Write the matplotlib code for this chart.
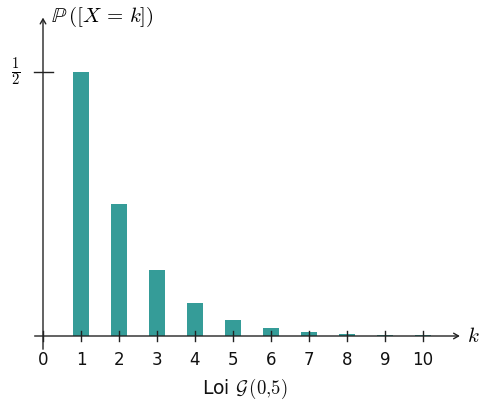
import matplotlib
matplotlib.use("Agg")
import matplotlib.pyplot as plt

plt.rcParams["mathtext.fontset"] = "cm"

# ── Data: geometric law G(0,5) ──
k_values = [1, 2, 3, 4, 5, 6, 7, 8, 9, 10]
probs = [0.5, 0.25, 0.125, 0.0625, 0.03125, 0.015625,
         0.0078125, 0.00390625, 0.001953125, 0.0009765625]
x_ticks = [0, 1, 2, 3, 4, 5, 6, 7, 8, 9, 10]
x_tick_labels = ["0", "1", "2", "3", "4", "5", "6", "7", "8", "9", "10"]
y_tick = 0.5

BAR_COLOR = "#359c98"
AX_COLOR = "#222222"

fig = plt.figure(figsize=(4.81, 4.05), dpi=100)
ax = fig.add_axes([0, 0, 1, 1])
ax.set_xlim(-43 / 38, (481 - 43) / 38)
ax.set_ylim(-(405 - 336) / 528, 336 / 528)
ax.axis("off")

# bars
ax.bar(k_values, probs, width=0.4, color=BAR_COLOR, zorder=2)

# axes with arrows
arrow = dict(arrowstyle="->,head_length=0.35,head_width=0.2", color=AX_COLOR,
             lw=1.0, shrinkA=0, shrinkB=0)
ax.annotate("", xy=(10.97, 0), xytext=(-0.22, 0), arrowprops=arrow, zorder=3)
ax.annotate("", xy=(0, 0.603), xytext=(0, -0.025), arrowprops=arrow, zorder=3)

# ticks
for xt, lab in zip(x_ticks, x_tick_labels):
    ax.plot([xt, xt], [-0.0095, 0.0095], color=AX_COLOR, lw=1.0, zorder=4)
    ax.text(xt, -0.028, lab, ha="center", va="top", fontsize=12,
            family="DejaVu Sans", color="#111111")
ax.plot([-0.24, 0.26], [y_tick, y_tick], color=AX_COLOR, lw=1.0, zorder=4)
ax.text(-0.72, y_tick, r"$\frac{1}{2}$", ha="center", va="center", fontsize=15)

# labels
ax.text(0.2, 0.604, r"$\mathbb{P}\,([X\,=\,k])$", ha="left", va="center", fontsize=15)
ax.text(11.15, 0, r"$k$", ha="left", va="center", fontsize=15)
ax.text(5.3, -0.1, r"Loi $\mathcal{G}\,(0{,}5)$", ha="center", va="center",
        fontsize=13.5, color="#111111")

fig.savefig("out.png", dpi=100)
